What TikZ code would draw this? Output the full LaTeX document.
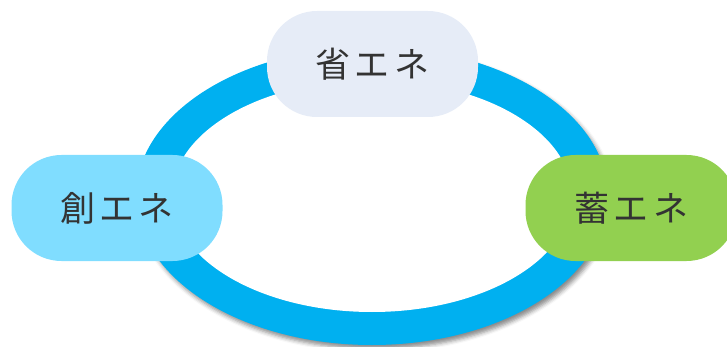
\documentclass[tikz,border=0pt]{standalone}
\usepackage{fontspec}
\setmainfont{Noto Sans CJK JP}
\usetikzlibrary{shadows.blur}
\definecolor{ringblue}{HTML}{00B0F0}
\definecolor{saveclr}{HTML}{E6ECF7}
\definecolor{createclr}{HTML}{80DDFF}
\definecolor{storeclr}{HTML}{92D050}
\definecolor{txtclr}{HTML}{333333}
\tikzset{
  pill/.style={rounded corners=50pt, minimum width=211pt, minimum height=106pt,
    inner sep=0pt, text=txtclr, font=\fontsize{35}{40}\selectfont},
}
\newcommand{\ene}[1]{#1\hspace{4.5pt}エ\hspace{4.5pt}ネ}
\begin{document}
\begin{tikzpicture}[x=1pt,y=-1pt]
\useasboundingbox (0,0) rectangle (727,347);
\clip (0,0) rectangle (727,347);
% ring
\fill[ringblue, blur shadow={shadow xshift=3pt, shadow yshift=-4pt, shadow blur radius=4pt, shadow opacity=45}]
  (372,196) ellipse [x radius=236, y radius=149];
\fill[white] (372,196) ellipse [x radius=200, y radius=116];
% nodes
\node[pill, fill=saveclr] (save) at (372.5,64) {\ene{省}};
\node[pill, fill=createclr] (create) at (117,208) {\ene{創}};
\node[pill, fill=storeclr] (store) at (631,208) {\ene{蓄}};
\end{tikzpicture}
\end{document}
